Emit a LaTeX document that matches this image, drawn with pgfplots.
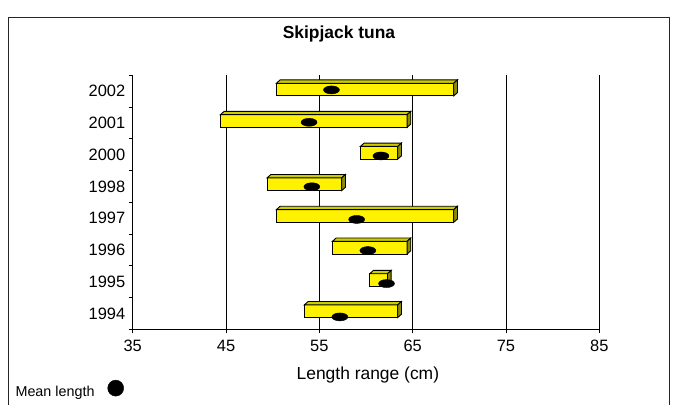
\documentclass[border=0pt]{standalone}
\usepackage{pgfplots}
\pgfplotsset{compat=1.18}
\usepackage{fontspec}
\setmainfont{Liberation Sans}
\definecolor{bartop}{RGB}{204,204,0}
\definecolor{barside}{RGB}{140,140,0}
% \tbar{lo}{hi}{front bottom}{front top}
\newcommand\tbar[4]{%
  \pgfmathsetmacro\xr{#2+0.4}\pgfmathsetmacro\xl{#1+0.4}%
  \pgfmathsetmacro\ytt{#4+0.105}\pgfmathsetmacro\ybb{#3+0.105}%
  \edef\tmp{%
    \noexpand\addplot[draw=black, fill=yellow, line width=0.9bp, forget plot] coordinates {(#1,#3) (#2,#3) (#2,#4) (#1,#4)} -- cycle;
    \noexpand\addplot[draw=black, fill=bartop, line width=0.9bp, forget plot] coordinates {(#1,#4) (#2,#4) (\xr,\ytt) (\xl,\ytt)} -- cycle;
    \noexpand\addplot[draw=black, fill=barside, line width=0.9bp, forget plot] coordinates {(#2,#3) (\xr,\ybb) (\xr,\ytt) (#2,#4)} -- cycle;
  }\tmp}
\begin{document}
\begin{tikzpicture}
\useasboundingbox (0,0) rectangle (684bp,405bp);
\clip (0,0) rectangle (684bp,405bp);
\draw[line width=1bp, black!85] (8bp,-2bp) -- (8bp,387bp) -- (669bp,387bp) -- (669bp,-2bp);
\node[font=\fontsize{17.5}{20}\selectfont\bfseries] at (339bp,371bp) {Skipjack tuna};
\begin{axis}[
  at={(132.7bp,75.7bp)}, anchor=south west,
  scale only axis, width=466.6bp, height=254bp,
  xmin=35, xmax=85, ymin=0, ymax=8,
  axis x line*=bottom, axis y line*=left,
  axis line style={line width=0.9bp, -},
  xtick={35,45,55,65,75,85},
  xmajorgrids, grid style={black, line width=0.9bp},
  ytick={0,1,...,8}, yticklabels={},
  extra y ticks={0.5,1.5,...,7.5},
  extra y tick labels={1994,1995,1996,1997,1998,2000,2001,2002},
  extra y tick style={major tick length=0pt, grid=none, yticklabel style={xshift=-4bp}},
  tick align=outside, major tick length=4bp,
  tick style={black, line width=0.9bp},
  /pgf/number format/assume math mode=true,
  ticklabel style={font=\fontsize{16.5}{18}\selectfont},
  xticklabel style={yshift=-3bp},
  xlabel={Length range (cm)},
  xlabel style={font=\fontsize{17.5}{20}\selectfont, at={(axis description cs:0.504,-0.18)}, anchor=center},
  legend style={at={(axis description cs:-0.2515,-0.235)}, anchor=west, draw=none, fill=none,
    inner sep=0pt, nodes={inner sep=0pt}, font=\fontsize{14.4}{16}\selectfont, legend plot pos=right},
  clip=false,
]
\tbar{50.4}{69.4}{7.35}{7.75}
\tbar{44.4}{64.4}{6.36}{6.76}
\tbar{59.4}{63.4}{5.36}{5.76}
\tbar{49.4}{57.4}{4.37}{4.77}
\tbar{50.4}{69.4}{3.37}{3.77}
\tbar{56.4}{64.4}{2.37}{2.77}
\tbar{60.4}{62.3}{1.36}{1.75}
\tbar{53.4}{63.4}{0.37}{0.77}
\addplot[only marks, mark=*, mark size=4bp, mark options={xscale=2, fill=black, draw=black}, forget plot] coordinates {
 (57.2,0.39) (62.2,1.44) (60.2,2.48) (59.0,3.46) (54.2,4.49) (61.6,5.46) (53.9,6.52) (56.3,7.54)};
\addlegendimage{legend image code/.code={\path (0,0); \fill[black] (21bp,4bp) circle[radius=8bp];}}
\addlegendentry{Mean length}
\end{axis}
\end{tikzpicture}
\end{document}
